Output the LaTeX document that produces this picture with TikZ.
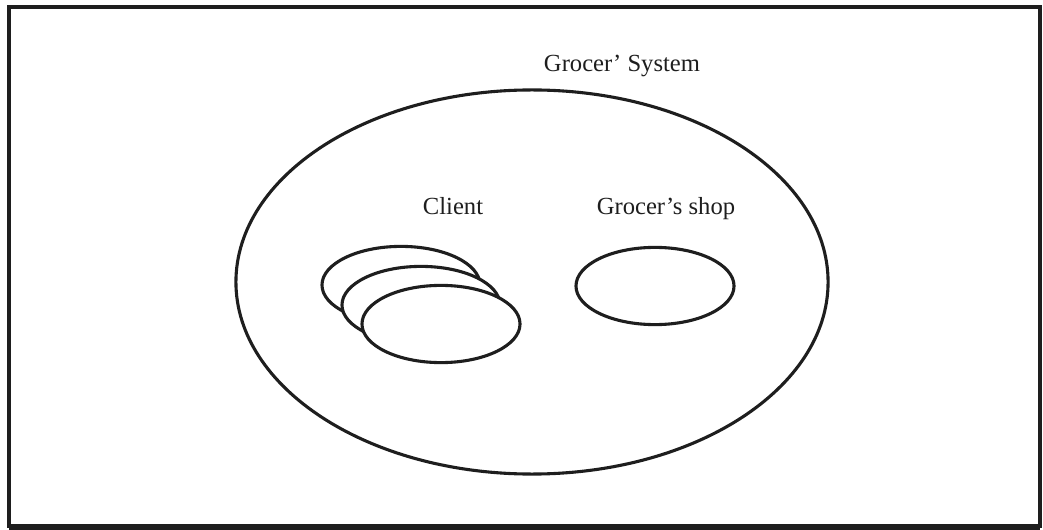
\documentclass[tikz,border=0pt]{standalone}
\usepackage{fontspec}
\setmainfont{Liberation Serif}
\usetikzlibrary{shapes.geometric}

\definecolor{ink}{HTML}{1E1E1E}

\tikzset{
    setbox/.style={ellipse, draw=ink, line width=2.2pt, fill=white, inner sep=0pt},
    setlabel/.style={anchor=base, text=ink, font=\fontsize{17.5}{20}\selectfont}
}

\begin{document}
\begin{tikzpicture}[x=0.025cm, y=-0.025cm]

\useasboundingbox (0,0) rectangle (1043,530);

% ---- Frame ----
\draw[ink, line width=2.6pt] (9,7) rectangle (1040,526);
\draw[ink, line width=4pt] (9,527) -- (1040,527);

% ---- Whole system ----
\node[setbox, minimum width=14.8cm, minimum height=9.6cm] (system) at (532,282) {};
\node[setlabel] (systemlabel) at (622,72) {Grocer' System};

% ---- Clients (stacked, back to front) ----
\foreach \n/\cx/\cy in {1/401/285, 2/421/305, 3/441/324}{
    \node[setbox, minimum width=3.95cm, minimum height=1.93cm] (client\n) at (\cx,\cy) {};
}
\node[setlabel] (clientlabel) at (453,215) {Client};

% ---- Shop ----
\node[setbox, minimum width=3.95cm, minimum height=1.93cm] (shop) at (655,286) {};
\node[setlabel] (shoplabel) at (666,215) {Grocer's shop};

\end{tikzpicture}
\end{document}
